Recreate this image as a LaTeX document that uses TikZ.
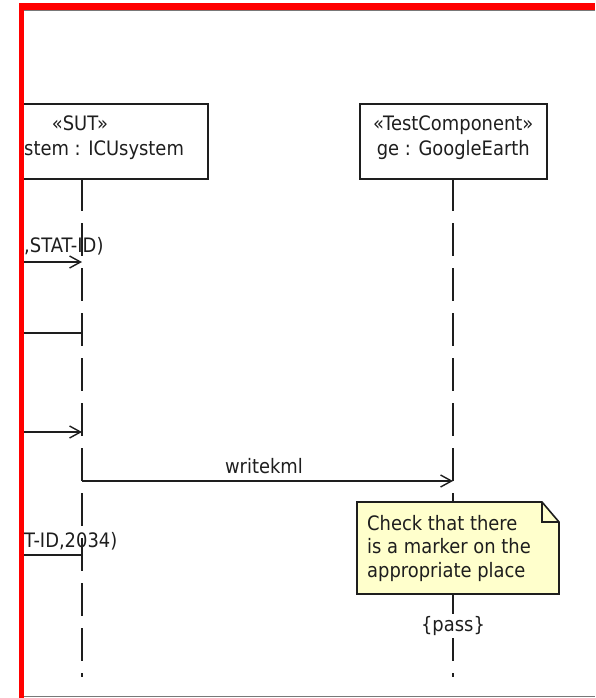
\documentclass[tikz,border=0pt]{standalone}
\usepackage{fontspec}
\setmainfont{DejaVu Sans}[FakeStretch=0.9]
\usetikzlibrary{arrows.meta}
\definecolor{framered}{RGB}{255,0,0}
\definecolor{framegray}{RGB}{120,120,120}
\definecolor{ink}{RGB}{30,30,30}
\definecolor{notefill}{RGB}{255,255,204}

\begin{document}
\begin{tikzpicture}[x=1pt,y=-1pt,
  every node/.style={font=\fontsize{19.9}{23.5}\selectfont, text=ink, inner sep=0pt},
  lifebox/.style={draw=ink, line width=1.6pt, fill=white},
  lifeline/.style={draw=ink, line width=1.6pt, dash pattern=on 33pt off 12pt},
  msg/.style={draw=ink, line width=1.6pt,
    -{Straight Barb[length=11pt,width=12pt,line width=1.4pt]}},
  plainmsg/.style={draw=ink, line width=1.6pt},
  notebox/.style={draw=ink, line width=1.6pt, fill=notefill},
]
\useasboundingbox (0,0) rectangle (595,698);
\fill[white] (0,0) rectangle (595,698);

\begin{scope}
\clip (22,10) rectangle (595,698);

% lifeline heads
\node[lifebox, minimum width=197pt, minimum height=75pt, anchor=north west] (sut) at (10,103) {};
\node[lifebox, minimum width=187pt, minimum height=75pt, anchor=north west] (ge) at (359,103) {};
\node[anchor=base] (sutst) at (80,130) {«SUT»};
\node[anchor=base west] (sutname) at (24,155) {stem : ICUsystem};
\node[anchor=base] (gest) at (ge.center |- 0,131) {«TestComponent»};
\node[anchor=base] (gename) at (ge.center |- 0,155) {ge : GoogleEarth};

% lifeline anchor points
\coordinate (sutTop) at (82,178);
\coordinate (sutEnd) at (82,677);
\coordinate (geTop) at (453,178);
\coordinate (geEnd) at (453,677);
\draw[lifeline] (sutTop) -- (sutEnd);
\draw[lifeline] (geTop) -- (geEnd);

% incoming and outgoing messages at the left edge
\coordinate (in1) at (10,262);
\coordinate (s1) at (82,262);
\draw[msg] (in1) -- (s1);
\node[anchor=base west] (m1) at (24,252) {,STAT-ID)};

\coordinate (s2) at (82,333);
\coordinate (out2) at (10,333);
\draw[plainmsg] (s2) -- (out2);

\coordinate (in3) at (10,432);
\coordinate (s3) at (82,432);
\draw[msg] (in3) -- (s3);

\coordinate (s4) at (82,481);
\coordinate (g4) at (453,481);
\draw[msg] (s4) -- (g4);
\node[anchor=base] (m4) at (264,473) {writekml};

\coordinate (s5) at (82,555);
\coordinate (out5) at (10,555);
\draw[plainmsg] (s5) -- (out5);
\node[anchor=base west] (m5) at (24,547) {T-ID,2034)};

% comment note
\draw[notebox] (357,502) -- (542,502) -- (559,522) -- (559,594) -- (357,594) -- cycle;
\draw[ink, line width=1.4pt] (542,502) -- (542,522) -- (559,522);
\node[anchor=north west, align=left] (note) at (367,515)
  {Check that there\\is a marker on the\\appropriate place};

% verdict
\node[fill=white, inner xsep=1pt, inner ysep=2pt] (pass) at (453,626) {\{pass\}};
\end{scope}

% frame
\fill[framered] (19,3) rectangle (595,10);
\fill[framered] (19,3) rectangle (24,698);
\draw[framegray, line width=0.8pt] (24,10.8) -- (595,10.8);
\draw[framegray, line width=1.5pt] (24,696.5) -- (595,696.5);
\end{tikzpicture}
\end{document}
